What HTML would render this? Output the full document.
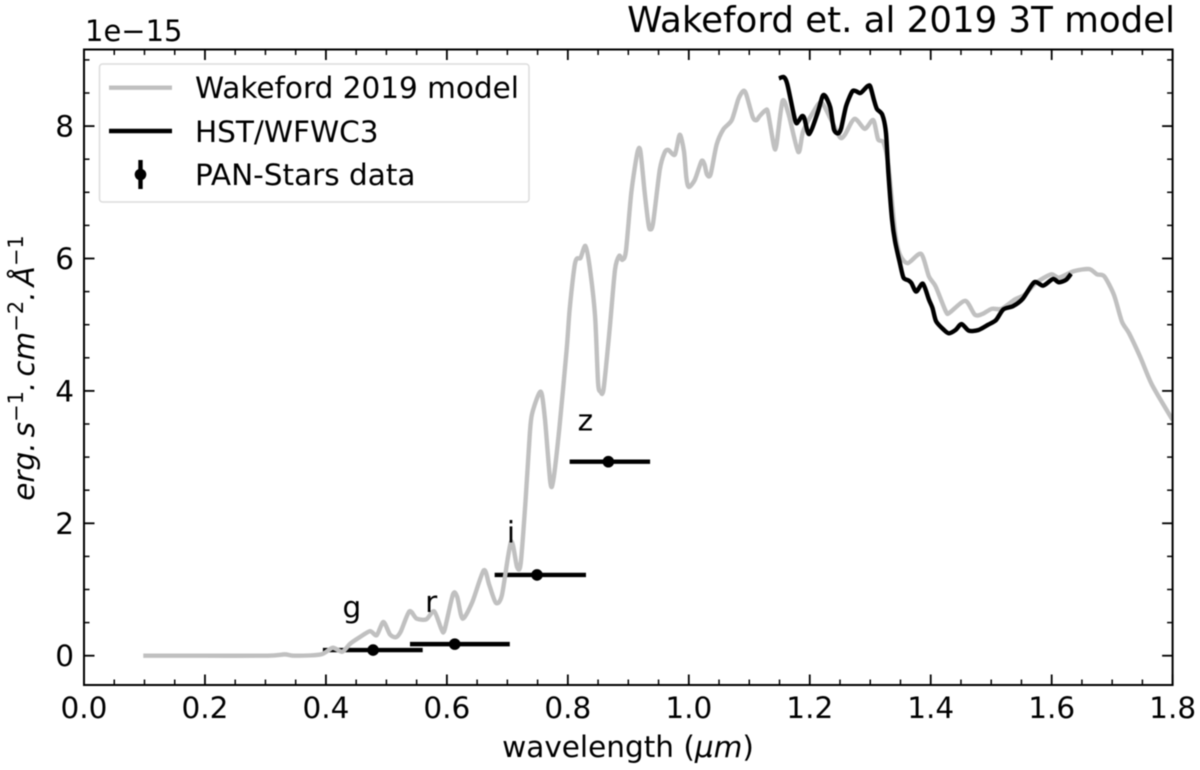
<!DOCTYPE html>
<html lang="en">
<head>
<meta charset="utf-8">
<title>Wakeford et. al 2019 3T model</title>
<style>
html,body{margin:0;padding:0;background:#fff;width:1200px;height:770px;overflow:hidden}
svg{display:block;filter:blur(0.55px)}
text{font-family:"DejaVu Sans","Liberation Sans",sans-serif;fill:#000}
</style>
</head>
<body>
<svg id="chart" xmlns="http://www.w3.org/2000/svg" width="1200" height="770" viewBox="0 0 1200 770">
  <rect x="0" y="0" width="1200" height="770" fill="#fff"/>
  <defs><clipPath id="plot-clip"><rect x="84" y="49.5" width="1088.6" height="635.5"/></clipPath></defs>
  <g id="errorbars" clip-path="url(#plot-clip)"></g>
  <g id="series" clip-path="url(#plot-clip)"></g>
  <g id="filters" font-size="29.5"></g>
  <g id="ticks"></g>
  <rect x="84" y="49.5" width="1088.6" height="635.5" fill="none" stroke="#000" stroke-width="2"/>
  <text x="1175" y="32" font-size="35.6" text-anchor="end">Wakeford et. al 2019 3T model</text>
  <text x="85" y="41" font-size="29">1e−15</text>
  <text x="628" y="757" font-size="29.5" text-anchor="middle">wavelength (<tspan font-style="italic">μm</tspan>)</text>
  <text transform="translate(34,368) rotate(-90)" font-size="29.5" text-anchor="middle" font-style="italic">erg.<tspan dx="5">s</tspan><tspan font-size="21" dy="-11" font-style="normal">−1</tspan><tspan dy="11">.</tspan><tspan dx="5">cm</tspan><tspan font-size="21" dy="-11" font-style="normal">−2</tspan><tspan dy="11">.</tspan><tspan dx="5">Å</tspan><tspan font-size="21" dy="-11" font-style="normal">−1</tspan></text>
  <g>
    <rect x="99.5" y="64" width="429.5" height="138" rx="3" fill="#fff" fill-opacity="0.8" stroke="#dcdcdc" stroke-width="1.5"/>
    <line x1="109" x2="172" y1="87.7" y2="87.7" stroke="#c0c0c0" stroke-width="4.4"/>
    <text x="195" y="98" font-size="29.5">Wakeford 2019 model</text>
    <line x1="109" x2="172" y1="131" y2="131" stroke="#000" stroke-width="4.4"/>
    <text x="195" y="142" font-size="29.5">HST/WFWC3</text>
    <line x1="140.5" x2="140.5" y1="160" y2="189" stroke="#000" stroke-width="4.4"/>
    <circle cx="140.5" cy="174.5" r="5.8" fill="#000"/>
    <text x="195" y="185" font-size="29.5">PAN-Stars data</text>
  </g>
</svg>
<script>
const modelWavelength = [0.098,0.2,0.304,0.332,0.348,0.392,0.411,0.427,0.44,0.456,0.473,0.484,0.495,0.506,0.516,0.524,0.538,0.55,0.566,0.579,0.591,0.596,0.61,0.617,0.626,0.642,0.661,0.67,0.681,0.691,0.706,0.716,0.722,0.73,0.737,0.741,0.755,0.762,0.771,0.776,0.786,0.798,0.803,0.811,0.815,0.821,0.829,0.836,0.845,0.85,0.854,0.859,0.869,0.878,0.885,0.89,0.896,0.905,0.915,0.92,0.927,0.933,0.936,0.941,0.952,0.96,0.966,0.977,0.985,0.992,0.996,1.0,1.01,1.021,1.026,1.03,1.036,1.046,1.057,1.071,1.082,1.09,1.095,1.106,1.112,1.117,1.127,1.131,1.141,1.145,1.155,1.165,1.181,1.189,1.205,1.219,1.235,1.25,1.258,1.274,1.291,1.305,1.313,1.322,1.33,1.341,1.349,1.362,1.384,1.397,1.408,1.425,1.431,1.457,1.473,1.485,1.501,1.517,1.539,1.555,1.574,1.599,1.612,1.637,1.662,1.675,1.687,1.703,1.716,1.728,1.747,1.766,1.8];
const modelFlux = [0,0,0,0.02,0,0.02,0.12,0.06,0.18,0.28,0.37,0.31,0.51,0.32,0.28,0.37,0.67,0.56,0.55,0.67,0.40,0.385,0.925,0.89,0.56,0.81,1.29,1.07,0.80,0.915,1.72,1.34,1.39,2.33,3.34,3.66,3.99,3.59,2.62,2.65,3.44,4.62,5.23,5.88,6.0,6.01,6.19,5.88,5.13,4.12,3.99,4.02,4.92,5.83,6.04,5.98,6.11,7.0,7.6,7.62,7.0,6.54,6.44,6.54,7.34,7.6,7.64,7.57,7.87,7.62,7.22,7.08,7.19,7.47,7.42,7.27,7.27,7.72,7.95,8.09,8.41,8.53,8.48,8.13,8.09,8.15,8.24,8.2,7.69,7.72,8.38,8.18,7.61,7.92,8.2,8.36,8.1,7.83,7.87,8.11,7.96,8.09,7.8,7.75,7.4,6.4,6.06,5.93,6.07,5.73,5.58,5.2,5.18,5.36,5.15,5.16,5.24,5.24,5.38,5.45,5.63,5.76,5.71,5.81,5.84,5.76,5.73,5.45,5.05,4.87,4.5,4.09,3.56];
const hstWavelength = [1.149,1.157,1.163,1.176,1.181,1.187,1.191,1.199,1.213,1.221,1.226,1.234,1.24,1.247,1.252,1.26,1.27,1.276,1.284,1.295,1.3,1.306,1.311,1.32,1.326,1.33,1.336,1.341,1.349,1.355,1.363,1.368,1.376,1.387,1.397,1.403,1.409,1.422,1.43,1.441,1.451,1.463,1.479,1.495,1.508,1.52,1.536,1.552,1.571,1.586,1.602,1.612,1.624,1.632];
const hstFlux = [8.72,8.74,8.63,8.08,8.07,8.15,8.12,7.88,8.2,8.45,8.45,8.28,7.95,7.89,7.97,8.3,8.52,8.53,8.5,8.6,8.6,8.4,8.26,8.17,7.9,7.29,6.59,6.26,5.93,5.71,5.67,5.63,5.5,5.62,5.38,5.25,5.05,4.92,4.87,4.92,5.01,4.91,4.92,5.0,5.07,5.23,5.28,5.39,5.64,5.59,5.69,5.64,5.68,5.77];
const filterNames = ['g','r','i','z'];
const filterWavelength = [0.478,0.613,0.749,0.867];
const filterFlux = [0.085,0.175,1.22,2.93];
const filterLow = [0.395,0.539,0.679,0.803];
const filterHigh = [0.56,0.704,0.83,0.936];
const filterLabelWavelength = [0.443,0.574,0.706,0.829];
const filterLabelFlux = [0.58,0.66,1.71,3.4];
const xMajorTicks = ['0.0','0.2','0.4','0.6','0.8','1.0','1.2','1.4','1.6','1.8'];
const yMajorTicks = ['0','2','4','6','8'];
const xMinorTicks = [0.05,0.1,0.15,0.25,0.3,0.35,0.45,0.5,0.55,0.65,0.7,0.75,0.85,0.9,0.95,1.05,1.1,1.15,1.25,1.3,1.35,1.45,1.5,1.55,1.65,1.7,1.75];
const yMinorTicks = [0.5,1,1.5,2.5,3,3.5,4.5,5,5.5,6.5,7,7.5,8.5,9];

const NS = 'http://www.w3.org/2000/svg';
const plotLeft = 84, plotRight = 1172.6, plotTop = 49.5, plotBottom = 685;
function xScale(w){ return 84 + w * 604.8; }
function yScale(f){ return 655.7 - f * 66.2; }
function make(tag, attrs, parent){
  const el = document.createElementNS(NS, tag);
  for (const k in attrs) el.setAttribute(k, attrs[k]);
  parent.appendChild(el);
  return el;
}
function linePath(xs, ys){
  const px = xs.map(xScale), py = ys.map(yScale);
  const k = 0.13;
  let d = 'M' + px[0].toFixed(2) + ' ' + py[0].toFixed(2);
  for (let i = 0; i < px.length - 1; i++) {
    const a = Math.max(i - 1, 0), b = Math.min(i + 2, px.length - 1);
    d += 'C' + (px[i] + (px[i + 1] - px[a]) * k).toFixed(2) + ' ' + (py[i] + (py[i + 1] - py[a]) * k).toFixed(2) + ' ' +
         (px[i + 1] - (px[b] - px[i]) * k).toFixed(2) + ' ' + (py[i + 1] - (py[b] - py[i]) * k).toFixed(2) + ' ' +
         px[i + 1].toFixed(2) + ' ' + py[i + 1].toFixed(2);
  }
  return d;
}
const errorGroup = document.getElementById('errorbars');
const seriesGroup = document.getElementById('series');
const filterGroup = document.getElementById('filters');
const tickGroup = document.getElementById('ticks');

filterNames.forEach((name, i) => {
  const bar = make('line', {x1: xScale(filterLow[i]), x2: xScale(filterHigh[i]), y1: yScale(filterFlux[i]), y2: yScale(filterFlux[i]), stroke: '#000', 'stroke-width': 4.4}, errorGroup);
  
  
  const dot = make('circle', {cx: xScale(filterWavelength[i]), cy: yScale(filterFlux[i]), r: 5.8, fill: '#000'}, errorGroup);
  
  
  const label = make('text', {x: xScale(filterLabelWavelength[i]), y: yScale(filterLabelFlux[i]), 'text-anchor': 'middle'}, filterGroup);
  label.textContent = name;
  
  
});

const modelLine = make('path', {d: linePath(modelWavelength, modelFlux), fill: 'none', stroke: '#c0c0c0', 'stroke-width': 4.4, 'stroke-linejoin': 'round'}, seriesGroup);


const hstLine = make('path', {d: linePath(hstWavelength, hstFlux), fill: 'none', stroke: '#000', 'stroke-width': 4.4, 'stroke-linejoin': 'round'}, seriesGroup);



function tick(x1, y1, x2, y2, width, name){
  const t = make('line', {x1: x1, y1: y1, x2: x2, y2: y2, stroke: '#000', 'stroke-width': width}, tickGroup);
  
  
}
xMajorTicks.forEach(label => {
  const x = xScale(parseFloat(label));
  tick(x, plotBottom, x, plotBottom - 10.5, 1.8, 'x-major-tick');
  tick(x, plotTop, x, plotTop + 10.5, 1.8, 'x-major-tick-top');
  const t = make('text', {x: x, y: 718, 'font-size': 29.5, 'text-anchor': 'middle'}, tickGroup);
  t.textContent = label;
  
  
});
xMinorTicks.forEach(v => {
  const x = xScale(v);
  tick(x, plotBottom, x, plotBottom - 5.5, 1.5, 'x-minor-tick');
  tick(x, plotTop, x, plotTop + 5.5, 1.5, 'x-minor-tick-top');
});
yMajorTicks.forEach(label => {
  const y = yScale(parseFloat(label));
  tick(plotLeft, y, plotLeft + 10.5, y, 1.8, 'y-major-tick');
  tick(plotRight, y, plotRight - 10.5, y, 1.8, 'y-major-tick-right');
  const t = make('text', {x: 74, y: y + 10.5, 'font-size': 29.5, 'text-anchor': 'end'}, tickGroup);
  t.textContent = label;
  
  
});
yMinorTicks.forEach(v => {
  const y = yScale(v);
  tick(plotLeft, y, plotLeft + 5.5, y, 1.5, 'y-minor-tick');
  tick(plotRight, y, plotRight - 5.5, y, 1.5, 'y-minor-tick-right');
});
</script>
</body>
</html>
